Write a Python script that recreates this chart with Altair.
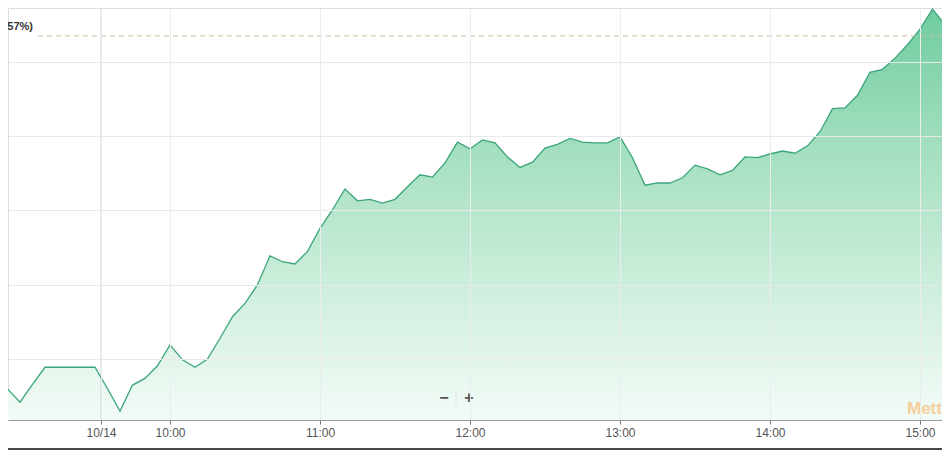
import altair as alt
import pandas as pd

# 5-minute closing values, starting one step before the visible left edge
prices = [10.003, 9.960, 9.942, 9.966, 9.989, 9.989, 9.989, 9.989, 9.989, 9.960,
          9.930, 9.965, 9.974, 9.991, 10.019, 9.999, 9.989, 10.000, 10.028, 10.057,
          10.075, 10.100, 10.139, 10.131, 10.128, 10.145, 10.176, 10.201, 10.229, 10.213,
          10.215, 10.210, 10.215, 10.232, 10.248, 10.245, 10.264, 10.292, 10.283, 10.295,
          10.291, 10.272, 10.258, 10.265, 10.284, 10.289, 10.297, 10.292, 10.291, 10.291,
          10.299, 10.271, 10.234, 10.237, 10.237, 10.244, 10.261, 10.256, 10.248, 10.254,
          10.272, 10.271, 10.276, 10.280, 10.277, 10.287, 10.306, 10.337, 10.338, 10.355,
          10.386, 10.390, 10.405, 10.423, 10.444, 10.471, 10.450, 10.432]
start_index = -1

tick_positions = [7.48, 13, 25, 37, 49, 61, 73]
tick_labels = ["10/14", "10:00", "11:00", "12:00", "13:00", "14:00", "15:00"]
grid_values = [10.0, 10.1, 10.2, 10.3, 10.4]
date_break = [7.48]
ref_level = [10.435]
ref_label = "10.44 (+4.57%)"
watermark = "Mettis"
y_min, y_max = 9.918, 10.4725

df = pd.DataFrame({"i": list(range(start_index, start_index + len(prices))), "p": prices})
df["b"] = y_min

W, H = 934, 412
xscale = alt.Scale(domain=[0.04, 74.76], nice=False, zero=False)
yscale = alt.Scale(domain=[y_min, y_max], nice=False, zero=False)

label_expr = "{" + ",".join(f"'{k}':'{v}'" for k, v in zip(tick_positions, tick_labels)) + "}[datum.value]"

x_axis = alt.Axis(values=tick_positions, labelExpr=label_expr, grid=True, gridColor="#ececec",
                  domainColor="#9a9a9a", tickColor="#777", tickSize=4, labelColor="#555",
                  labelFontSize=12, labelFont="Liberation Sans", labelPadding=3, title=None,
                  zindex=1, labelFlush=False)
y_axis = alt.Axis(values=grid_values, labels=False, ticks=False, domain=False, grid=True,
                  gridColor="#e9e9e9", title=None, zindex=1)

base = alt.Chart(df)

area = base.mark_area(
    fill=alt.Gradient(
        gradient="linear",
        stops=[alt.GradientStop(color="#6fcc9e", offset=0),
               alt.GradientStop(color="#a6e0c2", offset=0.36),
               alt.GradientStop(color="#d3f0e0", offset=0.72),
               alt.GradientStop(color="#f3fbf7", offset=1)],
        x1=0, x2=0, y1=0, y2=1),
    fillOpacity=1,
).encode(
    x=alt.X("i:Q", scale=xscale, axis=x_axis),
    y=alt.Y("p:Q", scale=yscale, axis=y_axis),
    y2=alt.Y2("b:Q"),
)

break_rule = alt.Chart(pd.DataFrame({"x": date_break})).mark_rule(color="#cfcfcf", strokeWidth=1).encode(
    x=alt.X("x:Q", scale=xscale), y=alt.value(0), y2=alt.value(H))

line = base.mark_line(color="#3aa57a", strokeWidth=1.3).encode(
    x=alt.X("i:Q", scale=xscale), y=alt.Y("p:Q", scale=yscale))

ref_rule = alt.Chart(pd.DataFrame({"y": ref_level})).mark_rule(
    color="#cbbf9f", strokeDash=[5, 4], strokeWidth=1).encode(
    y=alt.Y("y:Q", scale=yscale), x=alt.value(30), x2=alt.value(W))

ref_text = alt.Chart(pd.DataFrame({"t": [ref_label]})).mark_text(
    align="right", baseline="middle", fontSize=11, fontWeight="bold", color="#333",
    font="Liberation Sans").encode(x=alt.value(25), y=alt.value(19), text="t:N")

wm = alt.Chart(pd.DataFrame({"t": [watermark]})).mark_text(
    align="left", baseline="middle", fontSize=17, fontWeight="bold", color="#f5c37e",
    opacity=0.75, font="Liberation Sans").encode(x=alt.value(899), y=alt.value(401), text="t:N")

zoom_btn = alt.Chart(pd.DataFrame({"t": ["−", "+"], "x": [436, 461]})).mark_text(
    align="center", baseline="middle", fontSize=16, fontWeight="bold", color="#555",
    font="Liberation Sans").encode(x=alt.X("x:Q", scale=None), y=alt.value(390), text="t:N")

sep = alt.Chart(pd.DataFrame({"a": [1]})).mark_rule(color="#e4e4e4").encode(
    x=alt.value(448), y=alt.value(383), y2=alt.value(397))

bottom_edge = alt.Chart(pd.DataFrame({"a": [1]})).mark_rule(color="#4a4a4a", strokeWidth=2).encode(
    x=alt.value(-8), x2=alt.value(W + 8), y=alt.value(441))

chart = alt.layer(area, break_rule, line, ref_rule, ref_text, wm, zoom_btn, sep, bottom_edge).properties(
    width=W, height=H,
    autosize=alt.AutoSizeParams(type="none"),
    padding={"left": 0, "top": 0, "right": 0, "bottom": 30},
).configure_view(stroke=None).configure(background="white")

chart.save("out.html", embed_options={"renderer": "svg", "actions": False})
